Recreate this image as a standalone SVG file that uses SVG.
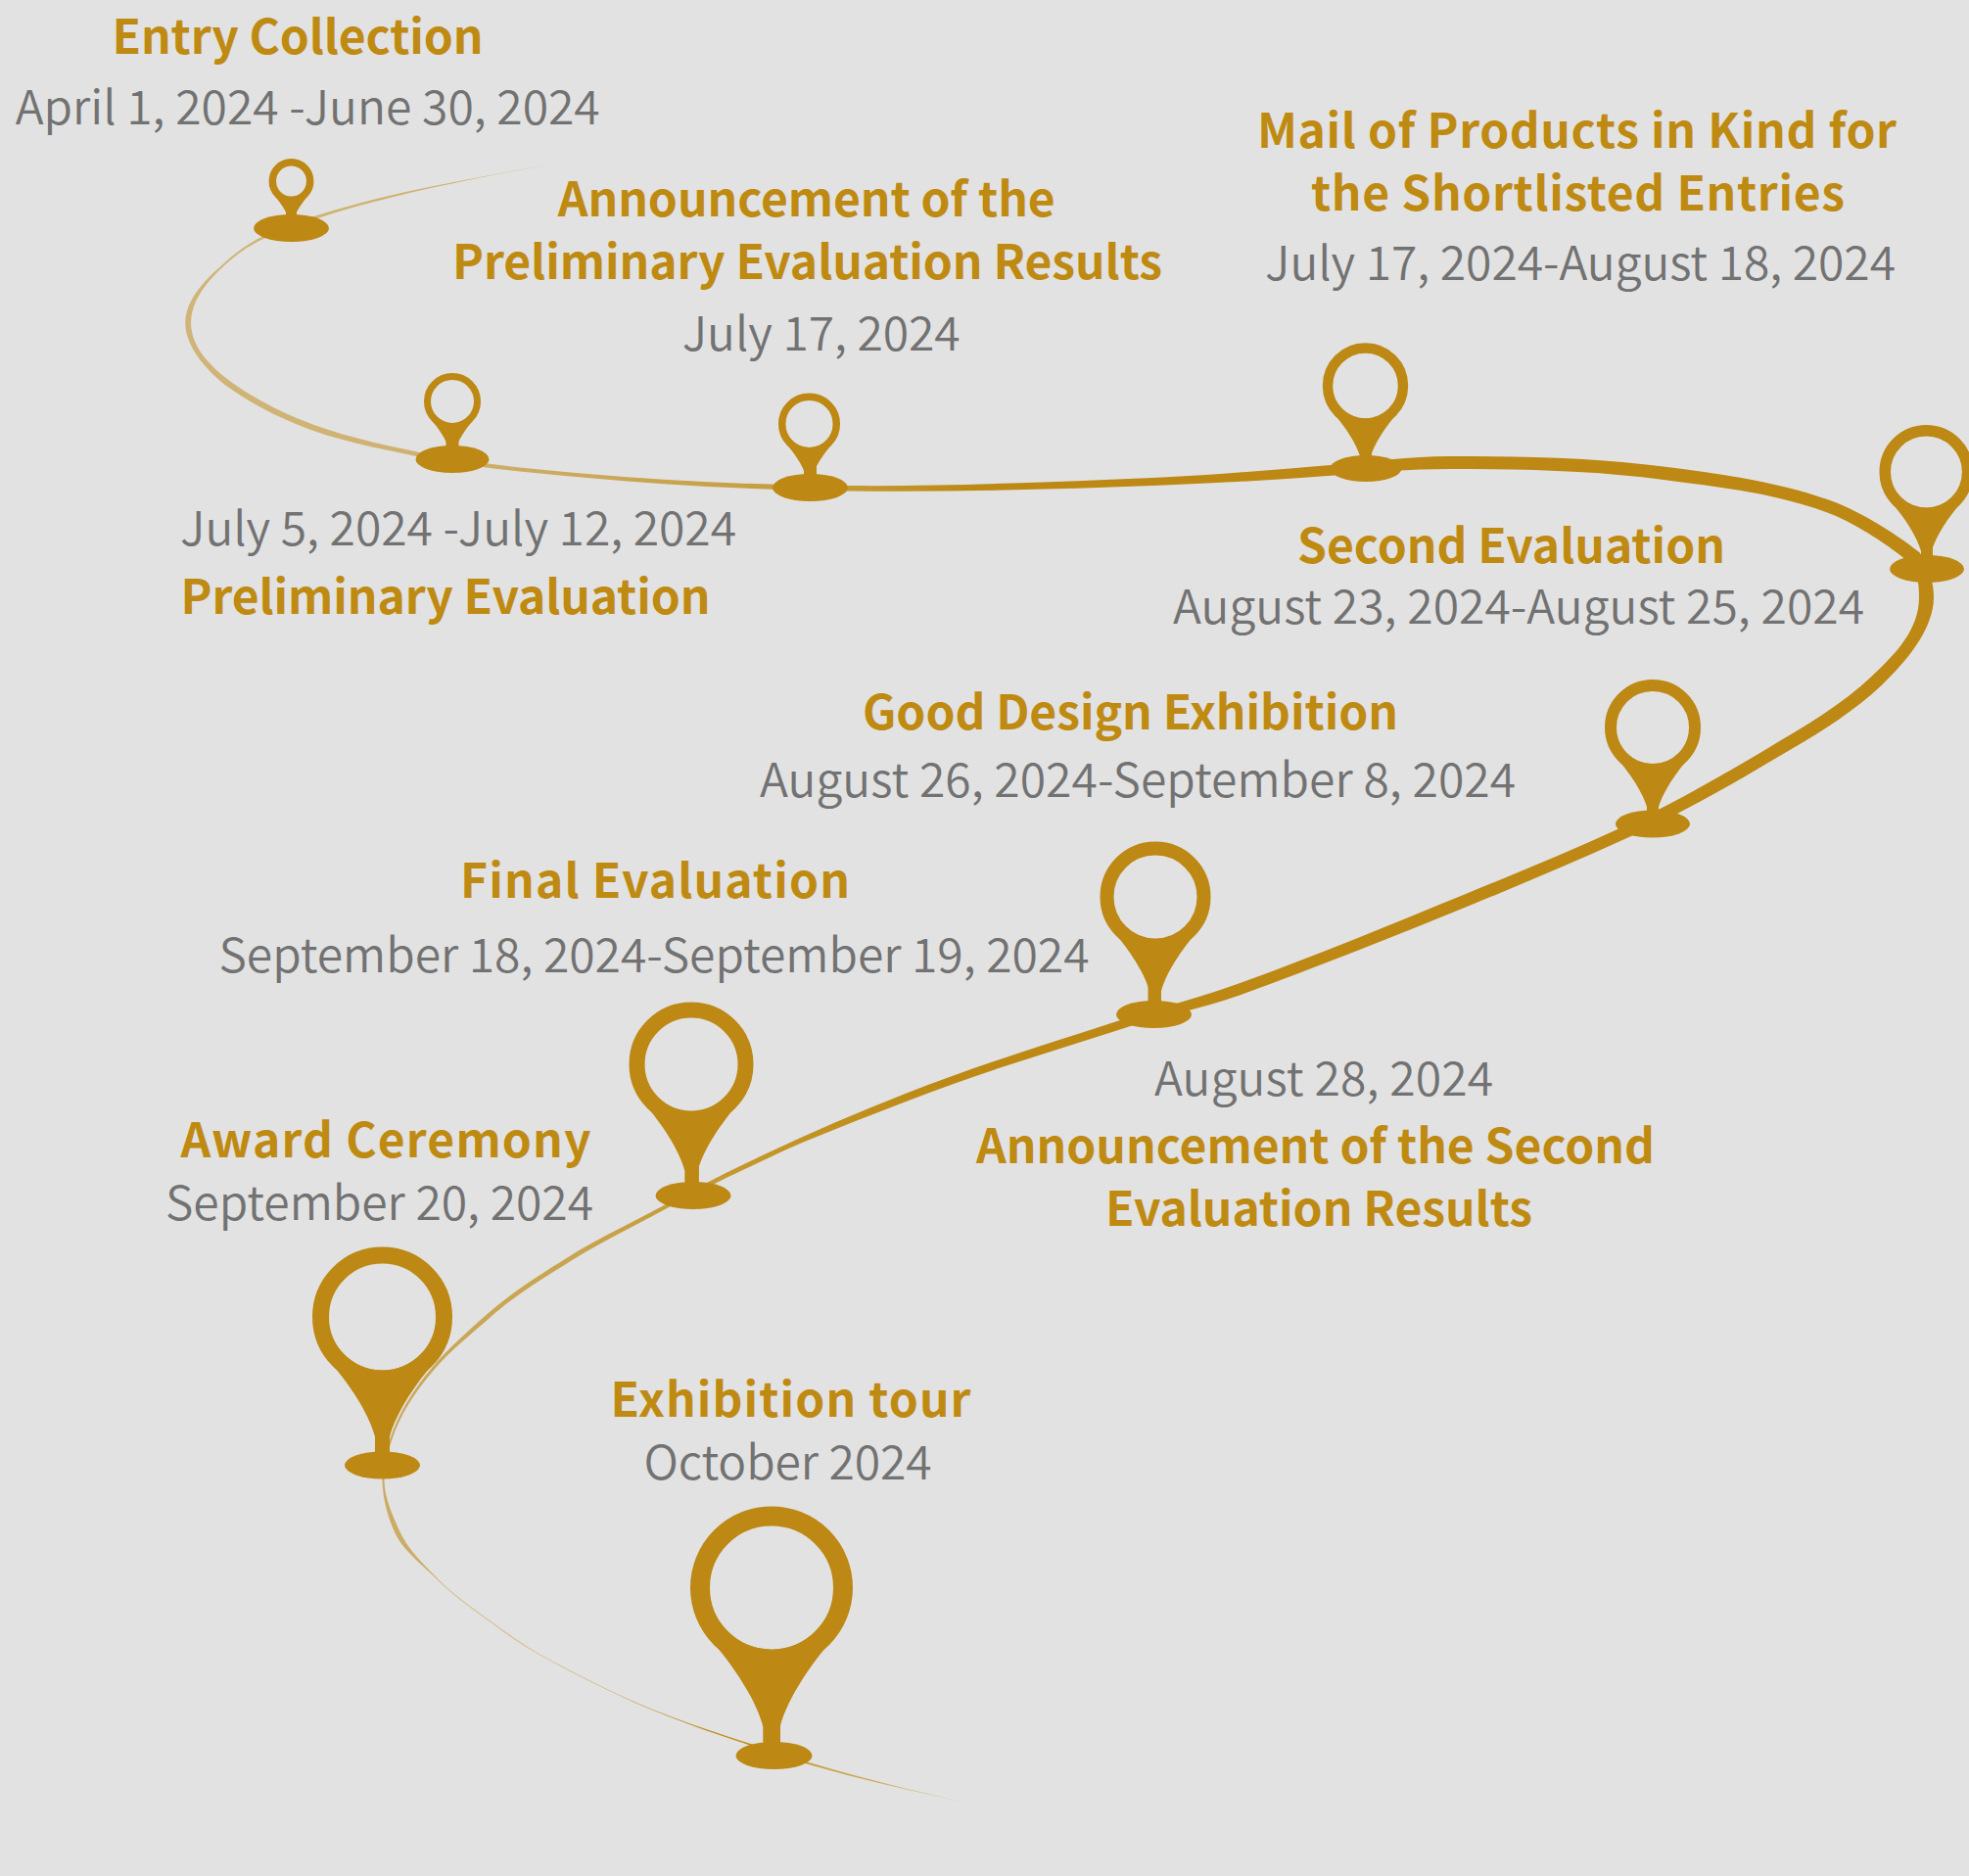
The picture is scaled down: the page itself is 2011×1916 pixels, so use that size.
<svg xmlns="http://www.w3.org/2000/svg" width="2011" height="1916" viewBox="0 0 2011 1916">
<style>
.bg{fill:#E2E2E2}
.ring{fill:none;stroke:#BD8813}
.pin{fill:#BD8813}
text{font-family:"Noto Sans CJK SC","Source Han Sans SC","Noto Sans",sans-serif;font-size:48px}
.t{font-weight:700;fill:#BF8A12}
.d{font-weight:350;fill:#727272}
</style>
<defs>
<path id="taper" d="M-.73 .66C-.5 .93 -.2 1.35 -.105 1.71L-.105 1.9L.105 1.9L.105 1.71C.2 1.35 .5 .93 .73 .66L.56 .52A.765 .765 0 0 1 -.56 .52Z"/>
<linearGradient id="gradTop" gradientUnits="userSpaceOnUse" x1="190" y1="0" x2="1000" y2="0">
<stop offset="0" stop-color="#D0B478"/><stop offset=".3" stop-color="#CFB272"/><stop offset=".83" stop-color="#C49A35"/><stop offset="1" stop-color="#BD8813"/>
</linearGradient>
<linearGradient id="gradBottom" gradientUnits="userSpaceOnUse" x1="0" y1="1100" x2="0" y2="1840">
<stop offset="0" stop-color="#BD8813"/><stop offset=".108" stop-color="#C39628"/><stop offset=".243" stop-color="#C9A450"/><stop offset=".676" stop-color="#CBAD68"/><stop offset=".81" stop-color="#D8C594"/><stop offset=".919" stop-color="#BD8813"/><stop offset="1" stop-color="#D8C594"/>
</linearGradient>
</defs>
<rect class="bg" width="2011" height="1916"/>
<g id="connectors">
<path id="ribbon-top" fill="url(#gradTop)" d="M560 168C481 183 398.1 195.8 320.5 221.1C291.1 230.7 260 242.1 236.4 262.2C216.4 279.3 190.6 301.6 189.3 327.9C188.1 354.9 214.5 382.7 236.8 398C257.4 412.1 280.8 424.3 303.9 433.8C342.8 449.8 385.5 457.85 426.5 466.25C483.1 477.85 542.1 482.7 599.8 487.9C687.4 495.8 777 500.5 865 501.4C971 502.5 1077.3 499.9 1183.2 495.7C1241.9 493.3 1300.8 490.4 1359.4 485.7C1400.3 482.4 1440 479 1481 479L1481 466C1440 466 1399.5 471.6 1358.6 474.9C1300 479.6 1241.5 485.3 1182.8 487.7C1076.9 491.9 971 497.1 865 496.1C777 495.2 687.8 492 600.2 484.1C542.5 478.9 484.1 473.35 427.5 461.75C386.5 453.35 345 444.2 306.1 428.2C283 418.7 260.8 407.1 240.2 393C217.9 377.7 193.9 355.1 195.1 328.1C196.4 301.9 217.6 280.9 237.6 263.8C261.2 243.7 292.1 233.5 321.5 223.9C399.1 198.6 481 183 560 168Z"/>
<path id="ribbon-bottom" fill="url(#gradBottom)" d="M1481 466L1481 479C1554 479 1626.8 480.4 1699.1 489.9C1755.5 497.3 1811.3 503.5 1864.9 522.9C1892 532.7 1922 552 1949.5 573.7C1958.8 584.6 1960 595.7 1960 610C1960 643 1936.5 667.3 1912.4 690.1C1877.9 722.7 1837.4 745.3 1796.7 769.4C1751.1 796.4 1705.6 822.4 1657.4 844.4C1604.6 868.5 1551.3 890.8 1497.6 912.7C1420.3 944.2 1343.6 976.2 1265.1 1004.6C1223.6 1019.6 1180.7 1030.1 1138.6 1043.8C1066.8 1067.1 994.6 1089.2 924.6 1117.1C876.5 1136.2 828.4 1156.3 781.9 1178.5C748.3 1194.5 714.8 1211 682 1228.9C648.6 1247.1 614 1262.8 581.7 1282.9C553.1 1300.8 523.8 1319.1 498.5 1341.3C479 1358.5 458.8 1376.2 441.9 1396C423.2 1417.8 406.7 1443.4 398 1470.7C394 1483.6 390.5 1497.4 390.5 1511C390.5 1528.9 395.5 1547.5 402.7 1564C411.4 1584 431.35 1597.85 446.65 1613.35C466.25 1633.25 490.3 1648.6 512.7 1665.4C543.3 1688.4 578.75 1705.1 612.85 1722.3C660.85 1746.6 712.5 1765 763.8 1781.7C784.4 1788.4 805 1795.8 825.8 1801.9C878.2 1817.2 931.5 1829.1 990 1841.5C931.5 1829.1 878.6 1815.4 826.2 1800.1C805.4 1794 784.8 1787 764.2 1780.3C712.9 1763.6 661.15 1746 613.15 1721.7C579.05 1704.5 543.9 1687.6 513.3 1664.6C490.9 1647.8 466.95 1632.55 447.35 1612.65C432.05 1597.15 416 1582 407.3 1562C400.1 1545.5 392.5 1528.9 392.5 1511C392.5 1497.4 395.9 1484.2 400 1471.3C408.6 1444 425.4 1419.8 444.1 1398C461 1378.2 482 1361.9 501.5 1344.7C526.8 1322.5 555.7 1305 584.3 1287.1C616.6 1267 650.6 1250.7 684 1232.5C716.8 1214.6 750.5 1199 784.1 1183C830.6 1160.8 879.3 1143.4 927.4 1124.3C997.4 1096.4 1069.6 1075.5 1141.4 1052.2C1183.5 1038.5 1227.4 1030.4 1268.9 1015.4C1347.4 987 1425.1 955.8 1502.4 924.3C1556.1 902.4 1609.8 879.7 1662.6 855.6C1710.8 833.6 1757.7 807.6 1803.3 780.6C1844 756.5 1887.1 732.5 1921.6 699.9C1945.7 677.1 1975 643 1975 610C1975 595.7 1969.8 575.2 1960.5 564.3C1933 542.6 1897 521.2 1869.1 511.1C1815.5 491.7 1757.3 484.1 1700.9 476.7C1628.6 467.2 1554 466 1481 466Z"/>
</g>
<g id="node-entry-collection">
<circle class="ring" cx="297.5" cy="185" r="19.2" stroke-width="7.5"/><use href="#taper" class="pin" transform="translate(297.5 185) scale(23)"/><rect class="pin" x="292" y="217.2" width="11" height="16"/><ellipse class="pin" cx="297.5" cy="233" rx="38.5" ry="14"/>
<text class="t" x="114.5" y="55" textLength="379">Entry Collection</text>
<text class="d" x="15.7" y="127" textLength="597">April 1, 2024 -June 30, 2024</text>
</g>
<g id="node-preliminary-evaluation">
<circle class="ring" cx="462" cy="410" r="25.5" stroke-width="7"/><use href="#taper" class="pin" transform="translate(462 410) scale(29)"/><rect class="pin" x="455.5" y="450.6" width="13" height="18.4"/><ellipse class="pin" cx="462" cy="469" rx="37.5" ry="14"/>
<text class="d" x="184" y="556.5" textLength="568">July 5, 2024 -July 12, 2024</text>
<text class="t" x="184.5" y="627" textLength="541">Preliminary Evaluation</text>
</g>
<g id="node-preliminary-results">
<circle class="ring" cx="826.5" cy="433" r="27.8" stroke-width="7.5"/><use href="#taper" class="pin" transform="translate(826.5 433) scale(31.5)"/><rect class="pin" x="821" y="477.1" width="13" height="21"/><ellipse class="pin" cx="827.5" cy="498" rx="38.5" ry="14"/>
<text class="t" x="569.7" y="221" textLength="508">Announcement of the</text>
<text class="t" x="462" y="285" textLength="725">Preliminary Evaluation Results</text>
<text class="d" x="696.7" y="358" textLength="284">July 17, 2024</text>
</g>
<g id="node-mail-of-products">
<circle class="ring" cx="1394.5" cy="394" r="38.5" stroke-width="10.4"/><use href="#taper" class="pin" transform="translate(1394.5 394) scale(43.7)"/><rect class="pin" x="1389" y="455.2" width="12" height="23"/><ellipse class="pin" cx="1395" cy="478.5" rx="36.5" ry="13.5"/>
<text class="t" x="1284" y="150.5" textLength="653">Mail of Products in Kind for</text>
<text class="t" x="1339" y="214.5" textLength="545">the Shortlisted Entries</text>
<text class="d" x="1292" y="286" textLength="644">July 17, 2024-August 18, 2024</text>
</g>
<g id="node-second-evaluation">
<circle class="ring" cx="1967.4" cy="482" r="42.2" stroke-width="11.5"/><use href="#taper" class="pin" transform="translate(1967.4 482) scale(48)"/><rect class="pin" x="1962" y="549.2" width="12" height="32"/><ellipse class="pin" cx="1968" cy="581" rx="38" ry="14"/>
<text class="t" x="1325" y="574.5" textLength="437">Second Evaluation</text>
<text class="d" x="1198" y="637" textLength="706">August 23, 2024-August 25, 2024</text>
</g>
<g id="node-good-design-exhibition">
<circle class="ring" cx="1688" cy="743" r="43" stroke-width="12"/><use href="#taper" class="pin" transform="translate(1688 743) scale(49)"/><rect class="pin" x="1682" y="811.6" width="12" height="30"/><ellipse class="pin" cx="1688" cy="841.5" rx="38" ry="14"/>
<text class="t" x="881" y="745" textLength="547">Good Design Exhibition</text>
<text class="d" x="776" y="813.5" textLength="772">August 26, 2024-September 8, 2024</text>
</g>
<g id="node-second-results">
<circle class="ring" cx="1180" cy="916" r="49.5" stroke-width="14"/><use href="#taper" class="pin" transform="translate(1180 916) scale(56.5)"/><rect class="pin" x="1172.5" y="995.1" width="13" height="41"/><ellipse class="pin" cx="1178.5" cy="1036" rx="38.5" ry="14"/>
<text class="d" x="1179" y="1119" textLength="346">August 28, 2024</text>
<text class="t" x="997" y="1188" textLength="693">Announcement of the Second</text>
<text class="t" x="1129" y="1251.5" textLength="436">Evaluation Results</text>
</g>
<g id="node-final-evaluation">
<circle class="ring" cx="706" cy="1087" r="55.5" stroke-width="16"/><use href="#taper" class="pin" transform="translate(706 1087) scale(63.5)"/><rect class="pin" x="700.7" y="1175.9" width="13.2" height="45"/><ellipse class="pin" cx="708" cy="1221" rx="38.5" ry="14"/>
<text class="t" x="470" y="917" textLength="398">Final Evaluation</text>
<text class="d" x="223.5" y="993" textLength="889">September 18, 2024-September 19, 2024</text>
</g>
<g id="node-award-ceremony">
<circle class="ring" cx="390.5" cy="1345" r="63" stroke-width="17"/><use href="#taper" class="pin" transform="translate(390.5 1345) scale(71.5)"/><rect class="pin" x="383" y="1445.1" width="15" height="51"/><ellipse class="pin" cx="390.5" cy="1496.5" rx="38.5" ry="14"/>
<text class="t" x="184.5" y="1182" textLength="419">Award Ceremony</text>
<text class="d" x="169" y="1246" textLength="437">September 20, 2024</text>
</g>
<g id="node-exhibition-tour">
<circle class="ring" cx="788" cy="1621.5" r="73" stroke-width="20"/><use href="#taper" class="pin" transform="translate(788 1621.5) scale(83)"/><rect class="pin" x="780" y="1737.7" width="17" height="55"/><ellipse class="pin" cx="790.5" cy="1793" rx="39" ry="14"/>
<text class="t" x="623.5" y="1447" textLength="368">Exhibition tour</text>
<text class="d" x="657.5" y="1511" textLength="294">October 2024</text>
</g>
</svg>
